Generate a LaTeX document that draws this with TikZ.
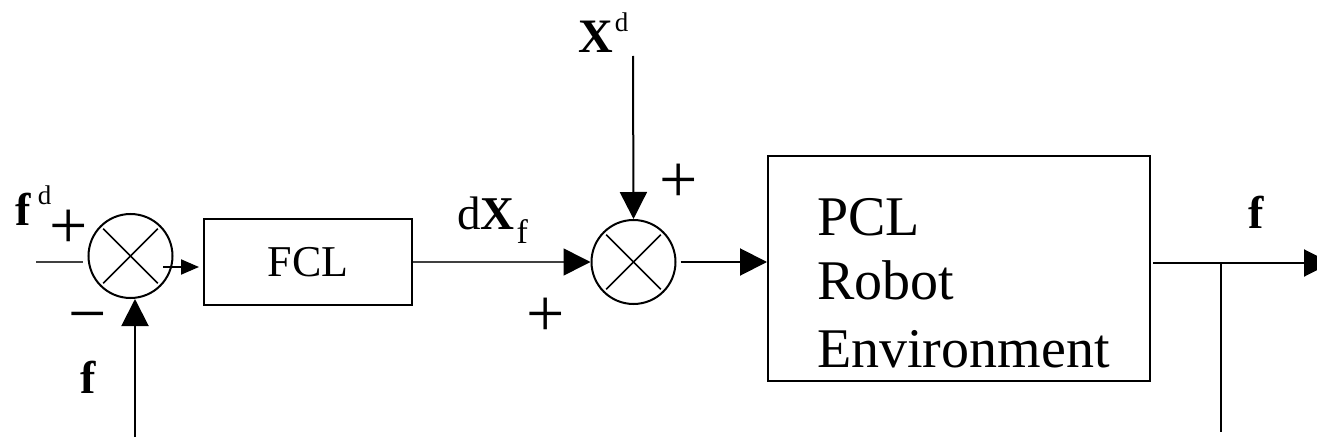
\documentclass[tikz,border=0pt]{standalone}
\usepackage{fontspec}
\setmainfont{Liberation Serif}
\usetikzlibrary{arrows.meta,calc}
\newcommand\fsz[1]{\fontsize{#1}{#1}\selectfont}
\tikzset{
  ln/.style={line width=2pt},
  lnthin/.style={line width=1.6pt, black!75},
  bigarr/.style={-{Triangle[length=27pt,width=27pt,color=black]}},
  smallarr/.style={-{Triangle[length=18pt,width=15pt]}},
  sumnode/.style={circle, draw, line width=2pt, minimum size=84pt, inner sep=0pt},
  boxnode/.style={rectangle, draw, line width=2pt, inner sep=0pt},
  lbl/.style={inner sep=0pt, anchor=base west},
  sgn/.style={inner sep=0pt, font=\fsz{68}},
}
\begin{document}
\begin{tikzpicture}[x=1pt,y=-1pt]
\clip (0,0) rectangle (1317,441);
\fill[white] (0,0) rectangle (1317,441);

% summing junctions
\node[sumnode] (s1) at (130.5,256) {};
\node[sumnode] (s2) at (633.5,262) {};
\foreach \s in {s1,s2}{
  \draw[line width=1.6pt] ($(\s.center)!0.9!(\s.45)$) -- ($(\s.center)!0.9!(\s.225)$);
  \draw[line width=1.6pt] ($(\s.center)!0.9!(\s.135)$) -- ($(\s.center)!0.9!(\s.315)$);
}

% blocks
\node[boxnode, minimum width=208pt, minimum height=86pt, font=\fsz{44}] (fcl) at (308,262) {FCL};
\node[boxnode, minimum width=382pt, minimum height=225pt] (plant) at (959,268.5) {};
\node[lbl, font=\fsz{56}] (t1) at (817,235) {PCL};
\node[lbl, font=\fsz{56}] (t2) at (817,299) {Robot};
\node[lbl, font=\fsz{56}] (t3) at (817,367) {Environment};

% coordinates for free ends
\coordinate (in1) at (36,262);
\coordinate (in1e) at (83,262);
\coordinate (s1out) at (163,267);
\coordinate (fb) at (135,437);
\coordinate (xd) at (633,56);
\coordinate (pout) at (1153,263);
\coordinate (outend) at (1331,263);
\coordinate (br) at (1221,263);
\coordinate (brend) at (1221,432);

% connectors
\draw[lnthin] (in1) -- (in1e);
\draw[ln, smallarr] (s1out) -- ($(fcl.west |- s1out)+(-4,0)$);
\draw[ln, bigarr] (fb) -- (fb |- s1.south);
\draw[lnthin, bigarr] (fcl.east |- s2) -- (s2.west);
\draw[ln, bigarr] (xd) -- (s2.north);
\draw[ln, bigarr] ($(s2.east)+(4,0)$) -- (plant.west |- s2);
\draw[ln, bigarr] (pout) -- (outend);
\draw[ln] (br) -- (brend);

% labels
\node[lbl] (lfd) at (15,225) {\fsz{46}\textbf{f}\kern7pt\raisebox{21pt}{\fsz{27}d}};
\node[lbl] (lf1) at (80,393) {\fsz{46}\textbf{f}};
\node[lbl] (lxd) at (578,53) {\fsz{48}\textbf{X}\kern2pt\raisebox{21pt}{\fsz{27}d}};
\node[lbl] (ldx) at (457,229) {\fsz{47}d\textbf{X}\kern2pt\raisebox{-14pt}{\fsz{34}f}};
\node[lbl] (lf2) at (1248,228) {\fsz{46}\textbf{f}};

% signs
\node[sgn] (p1) at (69,229) {+};
\node[sgn] (m1) at (88,324) {−};
\node[sgn] (p2) at (679,183) {+};
\node[sgn] (p3) at (546,317) {+};
\end{tikzpicture}
\end{document}
